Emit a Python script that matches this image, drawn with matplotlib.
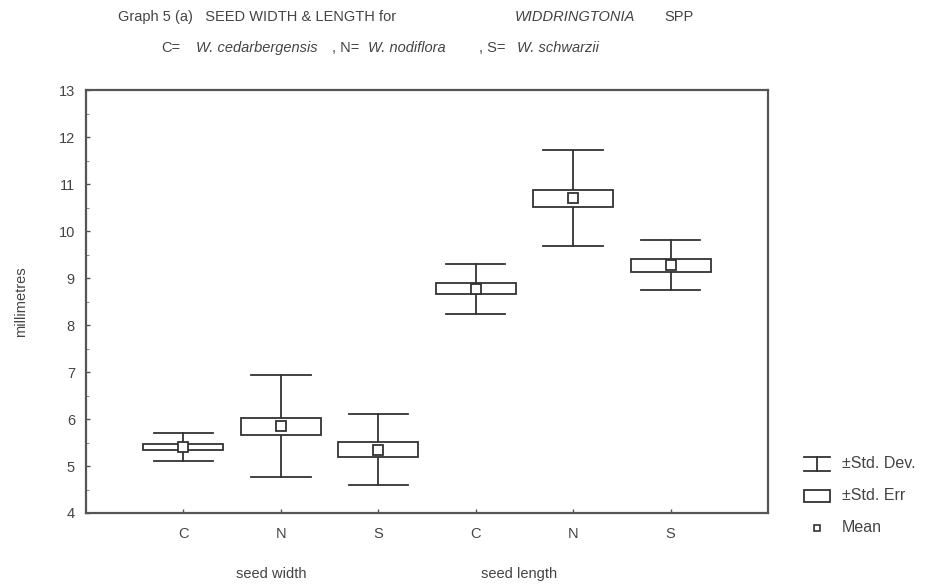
import matplotlib
matplotlib.use("Agg")
import matplotlib.pyplot as plt
from matplotlib.patches import Rectangle
from matplotlib.lines import Line2D
from matplotlib.ticker import MultipleLocator

plt.rcParams['font.family'] = ['Liberation Sans', 'DejaVu Sans']

# seed measurements (mm) per species, width group then length group
categories = ["C", "N", "S", "C", "N", "S"]
groups = ["seed width", "seed length"]
means = [5.40, 5.85, 5.35, 8.77, 10.70, 9.27]
std_err = [0.07, 0.18, 0.165, 0.12, 0.18, 0.135]
std_dev = [0.295, 1.09, 0.75, 0.535, 1.025, 0.535]

INK = "#333333"
TXT = "#444444"
W, H = 928, 584

fig = plt.figure(figsize=(W / 100, H / 100), dpi=100)
ax = fig.add_axes([86 / W, 1 - 513 / H, (768 - 86) / W, (513 - 90) / H])

xs = list(range(1, len(categories) + 1))
box_w = 0.82
cap_w = 0.61
for x, m, se, sd in zip(xs, means, std_err, std_dev):
    ax.plot([x, x], [m - sd, m + sd], color=INK, lw=1.3, zorder=2)
    ax.plot([x - cap_w / 2, x + cap_w / 2], [m + sd, m + sd], color=INK, lw=1.3, zorder=2)
    ax.plot([x - cap_w / 2, x + cap_w / 2], [m - sd, m - sd], color=INK, lw=1.3, zorder=2)
    ax.add_patch(Rectangle((x - box_w / 2, m - se), box_w, 2 * se,
                           facecolor="white", edgecolor=INK, lw=1.3, zorder=3))
ax.plot(xs, means, ls="none", marker="s", ms=6.5, mfc="white", mec=INK, mew=1.3, zorder=4)

ax.set_xlim(0, len(categories) + 1)
ax.set_ylim(4, 13)
ax.set_xticks(xs)
ax.set_xticklabels(categories)
ax.yaxis.set_major_locator(MultipleLocator(1))
ax.yaxis.set_minor_locator(MultipleLocator(0.5))
ax.tick_params(axis="both", direction="in", length=3, width=1, color="#555555",
               labelcolor=TXT, labelsize=10.5, pad=8)
ax.tick_params(axis="y", which="minor", direction="in", length=2, color="#777777")
ax.tick_params(axis="x", pad=10)
for s in ax.spines.values():
    s.set_color("#555555")
    s.set_linewidth(1.6)
ax.set_ylabel("millimetres", color=TXT, fontsize=10.5, labelpad=22)

# group labels under the category ticks
group_x = [1.90, 4.44]
for gx, g in zip(group_x, groups):
    ax.text(gx, -0.145, g, transform=ax.get_xaxis_transform(), ha="center", va="center",
            color=TXT, fontsize=10.5)

# overlay in pixel space for titles and the legend
ov = fig.add_axes([0, 0, 1, 1], facecolor="none")
ov.set_xlim(0, W)
ov.set_ylim(H, 0)
ov.axis("off")

tkw = dict(color=TXT, fontsize=10.5, va="center", ha="left")
ov.text(118, 17, "Graph 5 (a)   SEED WIDTH & LENGTH for", **tkw)
ov.text(515, 17, "WIDDRINGTONIA", style="italic", **tkw)
ov.text(664, 17, "SPP", **tkw)
ov.text(161, 48, "C=", **tkw)
ov.text(196, 48, "W. cedarbergensis", style="italic", **tkw)
ov.text(332, 48, ", N=", **tkw)
ov.text(368, 48, "W. nodiflora", style="italic", **tkw)
ov.text(479, 48, ", S=", **tkw)
ov.text(517, 48, "W. schwarzii", style="italic", **tkw)

# legend glyphs
ov.add_line(Line2D([804, 830], [457, 457], color=INK, lw=1.3))
ov.add_line(Line2D([804, 830], [471, 471], color=INK, lw=1.3))
ov.add_line(Line2D([817, 817], [457, 471], color=INK, lw=1.3))
ov.add_patch(Rectangle((804, 490), 26, 12, facecolor="white", edgecolor=INK, lw=1.3))
ov.add_line(Line2D([817], [528], ls="none", marker="s", ms=5, mfc="white", mec=INK, mew=1.2))
lkw = dict(color=TXT, fontsize=11.5, va="center", ha="left")
ov.text(842, 463, "±Std. Dev.", **lkw)
ov.text(842, 496, "±Std. Err", **lkw)
ov.text(842, 528, "Mean", **lkw)

fig.savefig("out.png", dpi=100)
